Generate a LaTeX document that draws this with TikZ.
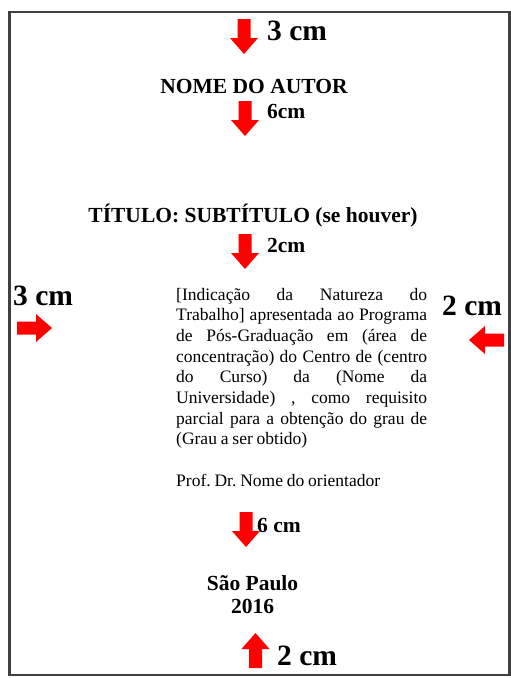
\documentclass[tikz,border=0pt]{standalone}
\usepackage{fontspec}
\setmainfont{Liberation Serif}
\usepackage{xcolor}
\usepackage{tikz}
\usetikzlibrary{positioning}

\definecolor{arrowred}{HTML}{FF0000}
\definecolor{framegray}{HTML}{404040}
\frenchspacing

\begin{document}
\begin{tikzpicture}[
  x=1pt, y=-1pt,
  bigcm/.style={anchor=base west, inner sep=0pt, font=\fontsize{29.5}{32}\selectfont\bfseries},
  smallcm/.style={anchor=base west, inner sep=0pt, font=\fontsize{21.5}{24}\selectfont\bfseries},
  heading/.style={anchor=base, inner sep=0pt, font=\fontsize{21.5}{24}\selectfont\bfseries},
  redarrow/.pic={\fill[arrowred] (-6.5,0) -- (6.5,0) -- (6.5,19) -- (14,19) -- (0,35) -- (-14,19) -- (-6.5,19) -- cycle;},
]
\useasboundingbox (0,0) rectangle (511,678);

% page frame
\draw[framegray, line width=2.5pt] (9.5,12) rectangle (509.5,675);

% top margin
\pic at (244,19) {redarrow};
\node[bigcm] (topcm) at (267,40) {3 cm};

\node[heading] (autor) at (254,93) {NOME DO AUTOR};
\pic at (245,101) {redarrow};
\node[smallcm] (autorcm) at (267,118) {6cm};

\node[heading] (titulo) at (253,222) {TÍTULO: SUBTÍTULO (se houver)};
\pic at (245,234) {redarrow};
\node[smallcm] (titulocm) at (267,252) {2cm};

% side margins
\node[bigcm] (leftcm) at (13,305) {3 cm};
\pic[rotate=90] at (17,328) {redarrow};
\node[bigcm] (rightcm) at (442,315) {2 cm};
\pic[rotate=-90] at (504,340) {redarrow};

\node[anchor=base west, inner sep=0pt] (natureza) at (176,300) {%
  \parbox[t]{251pt}{\fontsize{17.5}{20.7}\selectfont\spaceskip=0.22em plus 1em minus 0.06em
    [Indicação da Natureza do\linebreak
    Trabalho] apresentada ao Programa\linebreak
    de Pós-Graduação em (área de\linebreak
    concentração) do Centro de (centro\linebreak
    do Curso) da (Nome da\linebreak
    Universidade) , como requisito\linebreak
    parcial para a obtenção do grau de\linebreak
    (Grau a ser obtido)\par
    \vspace{20.7pt}
    Prof. Dr. Nome do orientador}};

\pic at (246,512) {redarrow};
\node[smallcm] (localcm) at (257,532) {6 cm};

\node[heading] (local) at (252.5,590) {São Paulo};
\node[heading] (ano) at (252.5,613) {2016};

% bottom margin
\pic[rotate=180] at (255.5,668) {redarrow};
\node[bigcm] (bottomcm) at (277,665) {2 cm};
\end{tikzpicture}
\end{document}
